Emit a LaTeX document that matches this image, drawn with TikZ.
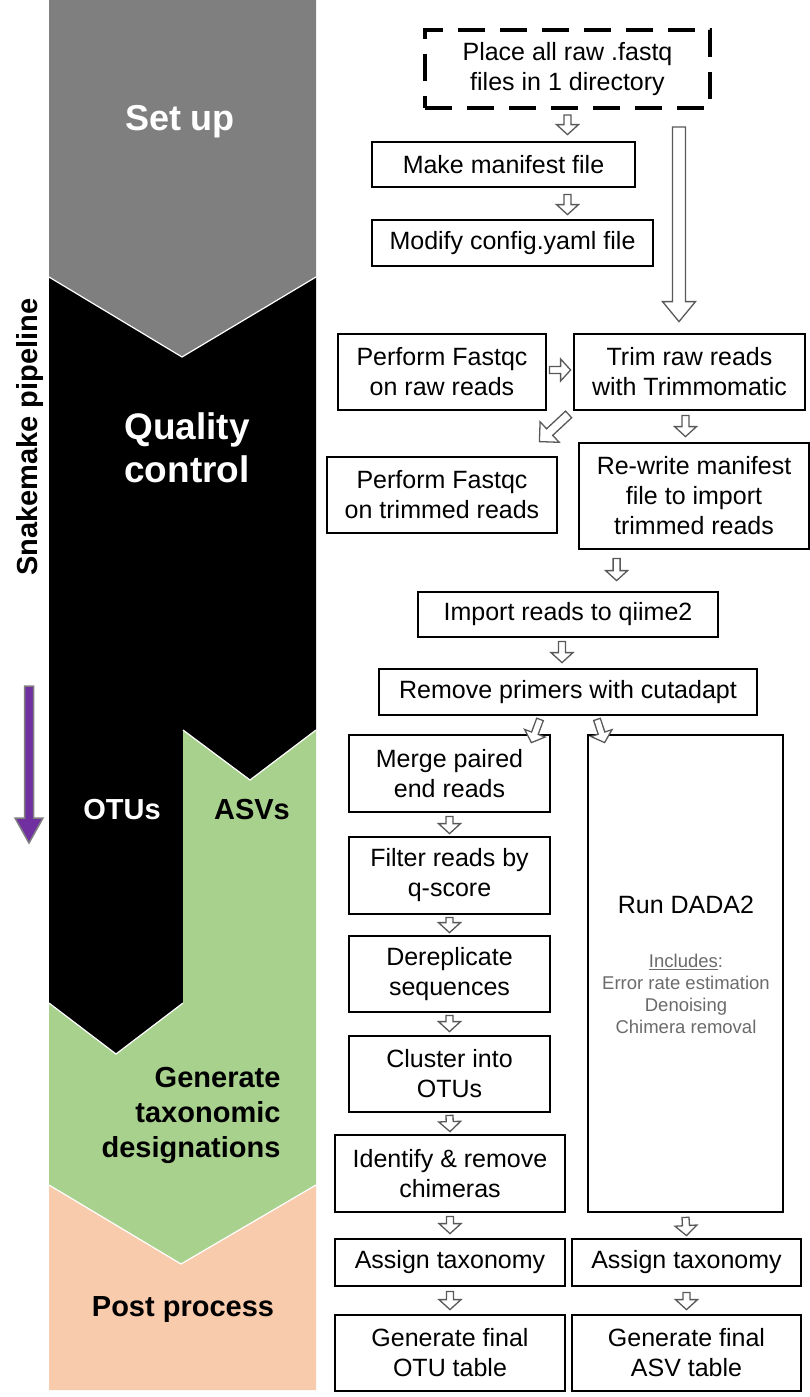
\documentclass[tikz,border=0pt]{standalone}
\usepackage{fontspec}
\setmainfont{Liberation Sans}
\usetikzlibrary{calc}
\definecolor{stagegrey}{HTML}{7F7F7F}
\definecolor{stagegreen}{HTML}{A9D18E}
\definecolor{stagepeach}{HTML}{F8CBAD}
\definecolor{arrowgrey}{HTML}{595959}
\definecolor{notegrey}{HTML}{6B6B6B}
\definecolor{pipepurple}{HTML}{7030A0}
% hollow block arrow: [style]{shaft half}{head half}{head length}{from}{to}
\newcommand\blockarrow[6][]{%
	\coordinate (tail) at (#5);
	\coordinate (tip) at (#6);
	\coordinate (base) at ($(tip)!#4!(tail)$);
	\draw[hollow,#1] ($(tail)!#2!90:(tip)$) -- ($(base)!#2!90:(tip)$) -- ($(base)!#3!90:(tip)$) -- (tip) -- ($(base)!#3!-90:(tip)$) -- ($(base)!#2!-90:(tip)$) -- ($(tail)!#2!-90:(tip)$) -- cycle;}
\newcommand\smallarrow[2]{\blockarrow{3.5pt}{11pt}{10pt}{#1}{#2}}

\begin{document}
\begin{tikzpicture}[x=1pt, y=-1pt,
		box/.style={draw, line width=2.8pt, fill=white, inner sep=0pt, align=center, font=\fontsize{25}{30}\selectfont},
		hollow/.style={draw=arrowgrey, line width=1.3pt, fill=white, line join=miter},
		stagetext/.style={font=\bfseries\fontsize{29}{35}\selectfont, align=center}]
			%%%%% START %%%%%
			\useasboundingbox (0,0) rectangle (810,1397);
			
			\fill[stagegrey] (49,0) -- (316,0) -- (316,277) -- (182,357) -- (49,277) -- cycle;
			\fill[black] (49,277) -- (182,357) -- (316,277) -- (316,730) -- (250,780) -- (183,730) -- (183,1003) -- (116,1054) -- (49,1003) -- cycle;
			\fill[stagegreen] (183,730) -- (250,780) -- (316,730) -- (316,1185) -- (181,1264) -- (49,1185) -- (49,1003) -- (116,1054) -- (183,1003) -- cycle;
			\fill[stagepeach] (49,1185) -- (181,1264) -- (316,1185) -- (316,1390) -- (49,1390) -- cycle;
			
			\draw[white, line width=1.2pt] (49,277) -- (182,357) -- (316,277);
			\draw[white, line width=1.2pt] (183,730) -- (250,780) -- (316,730);
			\draw[white, line width=1.2pt] (49,1003) -- (116,1054) -- (183,1003);
			\draw[white, line width=1.2pt] (49,1185) -- (181,1264) -- (316,1185);
			
			\node[stagetext, white, font=\bfseries\fontsize{36}{43}\selectfont] (setup) at (180,122) {Set up};
			\node[stagetext, white, font=\bfseries\fontsize{37}{43}\selectfont] (qc) at (187,448) {Quality\\control};
			\node[stagetext, white] (otus) at (122,810) {OTUs};
			\node[stagetext] (asvs) at (252,810) {ASVs};
			\node[stagetext, align=right, anchor=east] (taxa) at (284,1115) {Generate\\taxonomic\\designations};
			\node[stagetext] (post) at (183,1310) {Post process};
			\node[font=\bfseries\fontsize{29}{33}\selectfont, rotate=90] (snake) at (30,437) {Snakemake pipeline};
			
			\blockarrow[fill=pipepurple, draw=stagegrey, line width=1.5pt]{4.5pt}{14pt}{25pt}{29,686}{29,843}
			
			%%%%% SET UP %%%%%
			\node[box, dashed, line width=4pt, dash pattern=on 27pt off 15pt, minimum width=285, minimum height=78] (place) at (567.5,69) {Place all raw .fastq\\files in 1 directory};
			\node[box, minimum width=263, minimum height=45] (make) at (503.5,164.5) {Make manifest file};
			\node[box, minimum width=281, minimum height=46] (modify) at (512.5,243) {Modify config.yaml file};
			
			%%%%% QUALITY CONTROL %%%%%
			\node[box, minimum width=208, minimum height=76] (fqraw) at (442,372) {Perform Fastqc\\on raw reads};
			\node[box, minimum width=231, minimum height=76] (trim) at (689.5,372) {Trim raw reads\\with Trimmomatic};
			\node[box, minimum width=230, minimum height=76] (fqtrim) at (442,495) {Perform Fastqc\\on trimmed reads};
			\node[box, minimum width=230, minimum height=106] (rewrite) at (694,496) {Re-write manifest\\file to import\\trimmed reads};
			\node[box, minimum width=300, minimum height=45] (import) at (568,614.5) {Import reads to qiime2};
			\node[box, minimum width=378, minimum height=46] (primers) at (568,692) {Remove primers with cutadapt};
			
			%%%%% OTU BRANCH %%%%%
			\node[box, minimum width=201, minimum height=77] (merge) at (449.5,773.5) {Merge paired\\end reads};
			\node[box, minimum width=201, minimum height=77] (filter) at (449.5,875.5) {Filter reads by\\q-score};
			\node[box, minimum width=201, minimum height=76] (derep) at (449.5,974) {Dereplicate\\sequences};
			\node[box, minimum width=201, minimum height=76] (cluster) at (449.5,1074) {Cluster into\\OTUs};
			\node[box, minimum width=230, minimum height=77] (chim) at (450,1173.5) {Identify \& remove\\chimeras};
			\node[box, minimum width=230, minimum height=47] (taxotu) at (450,1262.5) {Assign taxonomy};
			\node[box, minimum width=230, minimum height=76] (otutab) at (450,1353) {Generate final\\OTU table};
			
			%%%%% ASV BRANCH %%%%%
			\node[box, minimum width=195, minimum height=477] (dada) at (685.5,973.5) {};
			\node[font=\fontsize{25}{30}\selectfont] (dadatitle) at (686,905) {Run DADA2};
			\node[font=\fontsize{18.5}{22}\selectfont, text=notegrey, align=center] (dadanote) at (686,994) {\underline{Includes}:\\Error rate estimation\\Denoising\\Chimera removal};
			\node[box, minimum width=229, minimum height=47] (taxasv) at (686.5,1262.5) {Assign taxonomy};
			\node[box, minimum width=229, minimum height=76] (asvtab) at (686.5,1353) {Generate final\\ASV table};
			
			%%%%% ARROWS %%%%%
			\smallarrow{$(place.south)+(0,5)$}{$(place.south |- make.north)+(0,-6)$}
			\smallarrow{$(place.south |- make.south)+(0,6)$}{$(place.south |- modify.north)+(0,-4)$}
			\blockarrow{6.5pt}{16.5pt}{20pt}{$(place.south east)+(-33,17)$}{$(place.south east |- trim.north)+(-33,-11)$}
			
			\smallarrow{$(fqraw.east)+(2,-2)$}{$(trim.west)+(-2,-2)$}
			\blockarrow{4.5pt}{14pt}{14pt}{$(trim.south west)+(-4,3)$}{$(fqtrim.north east)+(-19,-14)$}
			\smallarrow{$(trim.south)+(-4,4)$}{$(trim.south |- rewrite.north)+(-4,-5)$}
			\smallarrow{$(rewrite.south west)+(39,8)$}{$(rewrite.south west |- import.north)+(39,-10)$}
			\smallarrow{$(import.south)+(-6,3)$}{$(import.south |- primers.north)+(-6,-5)$}
			\smallarrow{$(primers.south)+(-28,3)$}{$(merge.north east)+(-20,9)$}
			\smallarrow{$(primers.south)+(29,3)$}{$(dada.north west)+(18,9)$}
			
			\smallarrow{$(merge.south)+(0,3)$}{$(filter.north)+(0,-2)$}
			\smallarrow{$(filter.south)+(0,2)$}{$(derep.north)+(0,-2)$}
			\smallarrow{$(derep.south)+(0,2)$}{$(cluster.north)+(0,-3)$}
			\smallarrow{$(cluster.south)+(0,2)$}{$(chim.north)+(0,-2)$}
			\smallarrow{$(chim.south)+(0,3)$}{$(taxotu.north)+(0,-4)$}
			\smallarrow{$(taxotu.south)+(0,4)$}{$(otutab.north)+(0,-4)$}
			
			\smallarrow{$(dada.south)+(0,4)$}{$(taxasv.north)+(0,-2)$}
			\smallarrow{$(taxasv.south)+(0,5)$}{$(asvtab.north)+(0,-4)$}
			
			%%%%% END %%%%%
		\end{tikzpicture}
\end{document}
